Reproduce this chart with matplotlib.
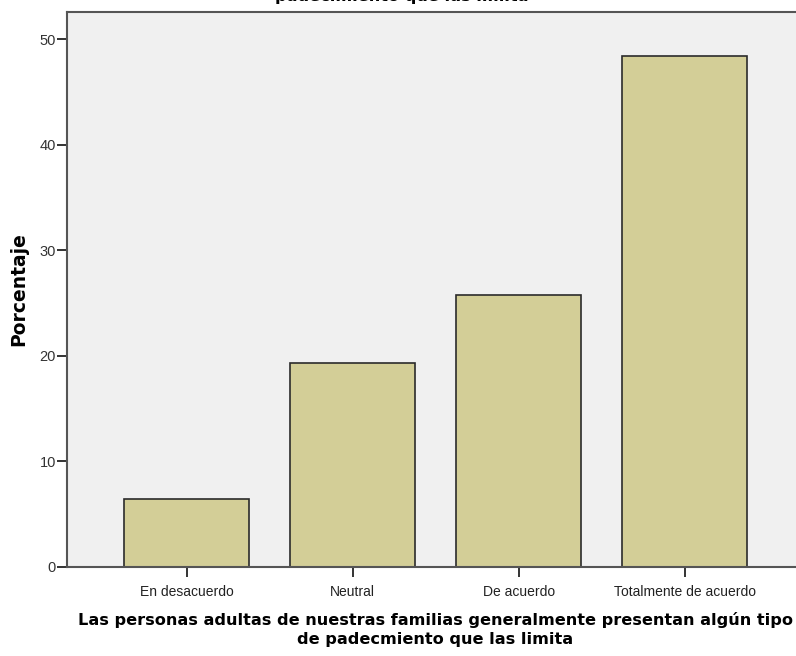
import matplotlib.pyplot as plt
import numpy as np

categorias = ['En desacuerdo', 'Neutral', 'De acuerdo', 'Totalmente de acuerdo']
porcentajes = [6.45, 19.35, 25.81, 48.39]
yticks = [0, 10, 20, 30, 40, 50]

titulo = 'Las personas adultas de nuestras familias generalmente presentan algún tipo de\npadecimiento que las limita'
etiqueta_x = 'Las personas adultas de nuestras familias generalmente presentan algún tipo\nde padecmiento que las limita'

plt.rcParams['font.family'] = ['Liberation Sans', 'DejaVu Sans']
negrita = ['DejaVu Sans']

fig = plt.figure(figsize=(7.96, 6.56), dpi=100)
ax = fig.add_axes([0.0842, 0.1357, 0.9158, 0.846])
ax.set_facecolor('#f0f0f0')

x = np.arange(len(categorias))
ax.bar(x, porcentajes, width=0.75, color='#d3ce97', edgecolor='#2b2b2b', linewidth=1.2, zorder=2)

ax.set_xlim(-0.72, 3.67)
ax.set_ylim(0, 52.6)
ax.set_xticks(x)
ax.set_xticklabels(categorias, fontsize=10, color='#222222')
ax.set_yticks(yticks)
ax.set_yticklabels([str(t) for t in yticks], fontsize=10.5, color='#333333')
ax.tick_params(axis='both', direction='out', length=7, width=1.4, color='#333333')
ax.tick_params(axis='x', pad=6)
ax.tick_params(axis='y', pad=1)

for s in ['left', 'bottom', 'top']:
    ax.spines[s].set_color('#555555')
    ax.spines[s].set_linewidth(1.5)
ax.spines['right'].set_visible(False)

ax.set_ylabel('Porcentaje', fontsize=13.5, fontweight='bold', family=negrita, labelpad=8)
ax.set_xlabel(etiqueta_x, fontsize=11.6, fontweight='bold', family=negrita,
              linespacing=1.3)
ax.xaxis.set_label_coords(0.505, -0.082)
ax.xaxis.label.set_va('top')

fig.text(0.505, 0.9935, titulo, ha='center', va='bottom', fontsize=11.6,
         fontweight='bold', family=negrita, linespacing=1.05)

fig.savefig('out.png', dpi=100)
